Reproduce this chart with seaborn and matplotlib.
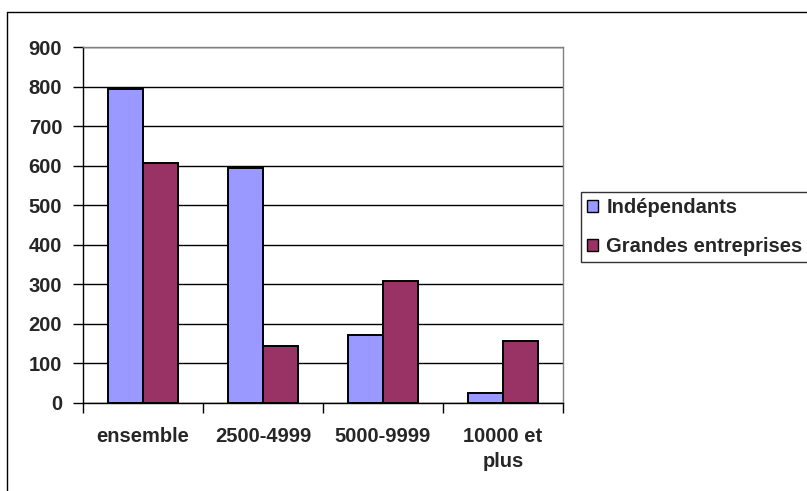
import matplotlib
matplotlib.use("Agg")
import matplotlib.pyplot as plt
from matplotlib.lines import Line2D
from matplotlib.ticker import FixedLocator, NullFormatter
import pandas as pd
import seaborn as sns

categories = ["ensemble", "2500-4999", "5000-9999", "10000 et\nplus"]
independants = [795, 595, 173, 25]
grandes = [606, 143, 309, 157]
series_names = ["Indépendants", "Grandes entreprises"]
colors = ["#9999FF", "#993366"]
y_ticks = [0, 100, 200, 300, 400, 500, 600, 700, 800, 900]

df = pd.DataFrame({
    "categorie": categories * 2,
    "valeur": independants + grandes,
    "serie": [series_names[0]] * len(categories) + [series_names[1]] * len(categories),
})

sns.set_style("white")
plt.rcParams["font.family"] = ["Liberation Sans", "DejaVu Sans"]
plt.rcParams["font.weight"] = "bold"

FS = 14.5
W, H = 807, 491
fig = plt.figure(figsize=(W / 100, H / 100), dpi=100)
ax = fig.add_axes([83 / W, 1 - 403 / H, (563 - 83) / W, (403 - 47) / H])

sns.barplot(data=df, x="categorie", y="valeur", hue="serie", order=categories,
            hue_order=series_names, palette=colors, width=0.58, saturation=1,
            edgecolor="black", linewidth=1.4, ax=ax, zorder=3)

ax.set_xlim(-0.5, len(categories) - 0.5)
ax.set_ylim(0, 900)
ax.set_yticks(y_ticks)
ax.set_yticklabels([str(v) for v in y_ticks], fontsize=FS, fontweight="bold")
ax.yaxis.grid(True, color="black", linewidth=1, zorder=0)
ax.set_axisbelow(True)

ax.set_xticks(range(len(categories)))
ax.set_xticklabels(categories, fontsize=FS, fontweight="bold", linespacing=1.4)
ax.tick_params(axis="x", which="major", length=0, pad=17)
ax.xaxis.set_minor_locator(FixedLocator([i - 0.5 for i in range(len(categories) + 1)]))
ax.xaxis.set_minor_formatter(NullFormatter())
ax.tick_params(axis="x", which="minor", length=7, width=1, color="black", direction="out", bottom=True)
ax.tick_params(axis="y", length=7, width=1, color="black", direction="out", left=True, pad=8)
for lab in ax.get_xticklabels():
    lab.set_verticalalignment("top")

ax.set_xlabel("")
ax.set_ylabel("")
for side in ("left", "bottom"):
    ax.spines[side].set_color("black")
    ax.spines[side].set_linewidth(1)
for side in ("top", "right"):
    ax.spines[side].set_color("#808080")
    ax.spines[side].set_linewidth(1)

handles, labels = ax.get_legend_handles_labels()
ax.legend_.remove()
leg = fig.legend(handles, labels, loc="upper left",
                 bbox_to_anchor=(581 / W, 1 - 192 / H), frameon=True, fancybox=False,
                 edgecolor="black", prop={"size": FS, "weight": "bold"},
                 handlelength=0.55, handleheight=0.55, handletextpad=0.4,
                 labelspacing=1.0, borderpad=0.3, borderaxespad=0)
leg.get_frame().set_linewidth(1)
for h in leg.legend_handles:
    h.set_edgecolor("black")
    h.set_linewidth(1)

# outer chart border
fig.add_artist(Line2D([7 / W, 7 / W], [0, 1 - 12 / H], transform=fig.transFigure,
                      color="black", linewidth=1))
fig.add_artist(Line2D([7 / W, 1], [1 - 12 / H, 1 - 12 / H], transform=fig.transFigure,
                      color="black", linewidth=1))

fig.savefig("out.png", dpi=100)
